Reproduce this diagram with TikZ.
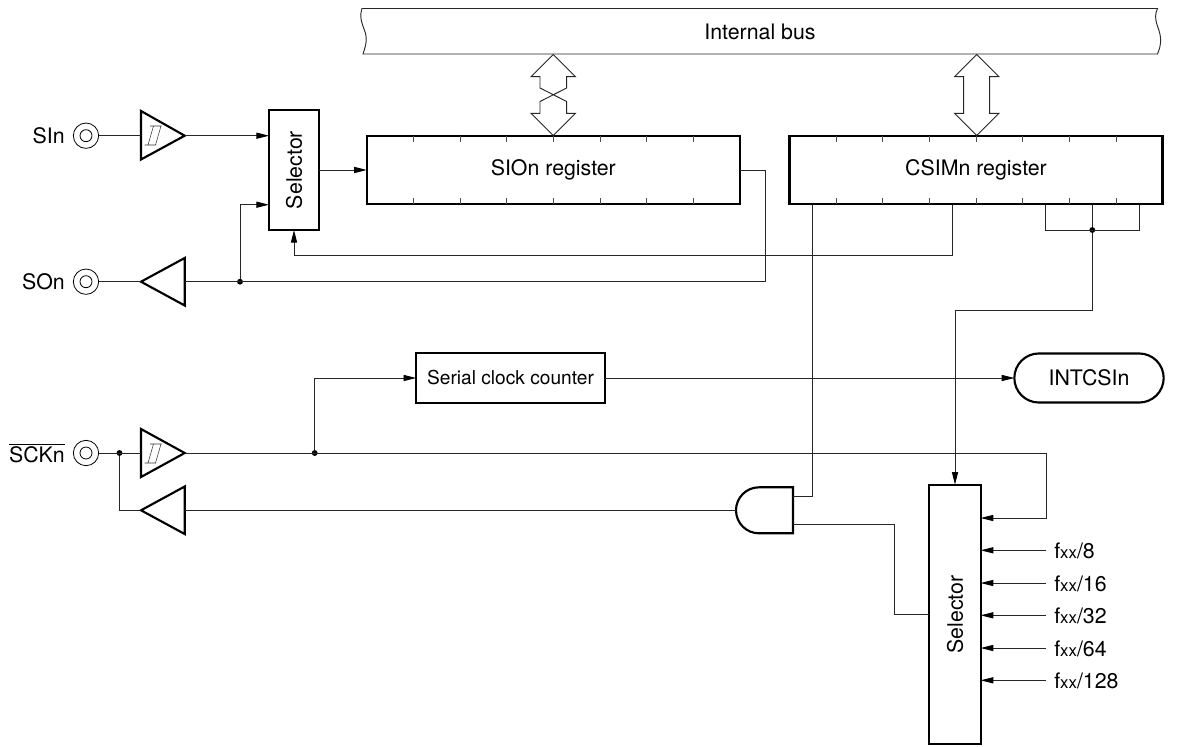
\documentclass[tikz,border=0pt]{standalone}
\usepackage{fontspec}
\setmainfont{TeX Gyre Heros}
\usetikzlibrary{arrows.meta,calc}
\newcommand{\fxx}[1]{f{\fontsize{12.6pt}{14pt}\selectfont xx}/#1}
\tikzset{
  wire/.style={line width=0.7pt,black!85},
  arr/.style={wire,-{Triangle[length=9.5pt,width=4.6pt,black]}},
  thickbox/.style={draw,line width=1.6pt,rectangle,inner sep=0pt,outer sep=0pt,font=\fontsize{16pt}{19pt}\selectfont,anchor=center},
  gate/.style={line width=1.6pt,line join=miter},
  thin box/.style={line width=0.7pt,black!85},
  lbl/.style={inner sep=0pt,font=\fontsize{16pt}{19pt}\selectfont},
  pinouter/.style={draw,circle,line width=0.6pt,minimum size=19pt,inner sep=0pt,outer sep=0pt},
  pininner/.style={draw,circle,line width=0.6pt,minimum size=9pt,inner sep=0pt,outer sep=0pt},
  jdot/.style={circle,fill=black,minimum size=4.4pt,inner sep=0pt,outer sep=0pt},
  tick/.style={line width=0.7pt,black!70},
}
\begin{document}
\begin{tikzpicture}[x=0.75pt,y=-0.75pt]
\useasboundingbox (0,0) rectangle (1191,746);
\fill[white] (0,0) rectangle (1191,746);

% Internal bus
\draw[thin box] (362,8.5) -- (1157.5,8.5)
  .. controls (1152,20) and (1160,28) .. (1160.5,38)
  .. controls (1161,46) and (1159,50) .. (1157.5,54)
  -- (363,54)
  .. controls (365,48) and (367,42) .. (366,36)
  .. controls (365,28) and (358,20) .. (362,8.5) -- cycle;
\node[lbl] (busl) at (760,31.5) {Internal bus};

% Registers
\node[thickbox,minimum width=279.8pt,minimum height=51.6pt] (sio) at (553.3,170) {\raisebox{-1.1pt}{SIOn register}};
\node[thickbox,minimum width=279.8pt,minimum height=51.6pt] (csim) at (976,170) {\raisebox{-1.1pt}{CSIMn register}};
\foreach \i in {1,...,7}{
  \draw[tick] ($(sio.north west)+(46.67*\i,0)$) -- ++(0,6);
  \draw[tick] ($(sio.south west)+(46.67*\i,0)$) -- ++(0,-6);
  \draw[tick] ($(csim.north west)+(46.67*\i,0)$) -- ++(0,6);
  \draw[tick] ($(csim.south west)+(46.67*\i,0)$) -- ++(0,-6);
}

% Bus arrows
\draw[thin box,line join=miter] (553.3,54.5) -- (575.5,76.7) -- (566.6,76.7) -- (566.6,88) -- (540,101.5) -- (540,113.3) -- (531,113.3) -- (553.3,135.5) -- (575.5,113.3) -- (566.6,113.3) -- (566.6,101.5) -- (540,88) -- (540,76.7) -- (531,76.7) -- cycle;
\draw[thin box,line join=miter] (976.7,54.5) -- (998.9,76.7) -- (989.7,76.7) -- (989.7,113.3) -- (998.9,113.3) -- (976.7,135.5) -- (954.5,113.3) -- (963.7,113.3) -- (963.7,76.7) -- (954.5,76.7) -- cycle;

% Selectors
\node[thickbox,minimum width=37.5pt,minimum height=90pt] (sela) at (294,170) {\rotatebox{90}{Selector}};
\node[thickbox,minimum width=38.5pt,minimum height=194.6pt] (selb) at (955,614.4) {\rotatebox{90}{Selector}};

% Serial clock counter, INTCSIn
\node[thickbox,minimum width=141.5pt,minimum height=37.5pt] (cnt) at (510.5,378) {\fontsize{14.35pt}{17pt}\selectfont Serial clock counter};
\node[thickbox,minimum width=112pt,minimum height=36.8pt,rounded corners=18.4pt] (intc) at (1089,378) {INTCSIn};

% Pins
\node[pinouter] (psi) at (86,135.7) {}; \node[pininner] (psii) at (psi) {};
\node[pinouter] (pso) at (86,281.7) {}; \node[pininner] (psoi) at (pso) {};
\node[pinouter] (pck) at (86,453) {}; \node[pininner] (pcki) at (pck) {};
\node[lbl,anchor=east] (lsi) at (65,135.7) {SIn};
\node[lbl,anchor=east] (lso) at (65,281.7) {SOn};
\node[lbl,anchor=east] (lck) at (65,453) {$\overline{\mbox{SCKn}}$};

% Buffers
\coordinate (b1in) at (141,135.7); \coordinate (b1out) at (184.7,135.7);
\draw[gate] (141,111) -- (b1out) -- (141,159.5) -- cycle;
\draw[line width=0.4pt,black!80] (150,126) -- (161.6,126) (144.5,145) -- (156,145) (153.5,126) -- (148,145) (161,126) -- (155.5,145);
\coordinate (b2in) at (184.7,281.7); \coordinate (b2out) at (141,281.7);
\draw[gate] (184.7,258) -- (b2out) -- (184.7,305.5) -- cycle;
\coordinate (b3in) at (141,453); \coordinate (b3out) at (184.7,453);
\draw[gate] (141,429) -- (b3out) -- (141,477) -- cycle;
\draw[line width=0.4pt,black!80] (150,444) -- (161.6,444) (144.5,463) -- (156,463) (153.5,444) -- (148,463) (161,444) -- (155.5,463);
\coordinate (b4in) at (184.7,510.3); \coordinate (b4out) at (141,510.3);
\draw[gate] (184.7,486.5) -- (b4out) -- (184.7,534) -- cycle;

% AND gate
\coordinate (andout) at (736,510.3); \coordinate (anda) at (793,496); \coordinate (andb) at (793,524.3);
\draw[gate] (793,487.3) -- (759,487.3) .. controls (746.3,487.3) and (736,497.6) .. (736,510.3)
  .. controls (736,523) and (746.3,533.3) .. (759,533.3) -- (793,533.3) -- cycle;

% Junctions
\node[jdot] (j1) at (240,281.7) {};
\node[jdot] (j2) at (1092.3,230) {};
\node[jdot] (j3) at (119.5,453) {};
\node[jdot] (j4) at (314.7,453) {};

% Wires
\draw[wire] (psi.east) -- (b1in);
\draw[arr] (b1out) -- (sela.west |- b1out);
\draw[arr] (sela.east) -- (sio.west);
\draw[wire] (pso.east) -- (b2out);
\draw[wire] (sio.east) -- (765,170) -- (765,281.7) -- (b2in);
\draw[arr] (j1) -- (240,204.7) -- (sela.west |- 0,204.7);
\draw[arr] (952.7,204.5) -- (952.7,255.3) -- (294,255.3) -- (sela.south);
\draw[wire] (812.3,204.5) -- (812.3,496) -- (anda);
\draw[wire] (1045.7,204.5) -- (1045.7,230) -- (1139.3,230) -- (1139.3,204.5);
\draw[arr] (1092.3,204.5) -- (j2) -- (1092.3,310) -- (955,310) -- (selb.north);
\draw[arr] (cnt.east) -- (intc.west);
\draw[wire] (pck.east) -- (b3in);
\draw[wire] (j3) -- (119.5,510.3) -- (b4out);
\draw[arr] (j4) -- (314.7,378) -- (cnt.west);
\draw[arr] (b3out) -- (1046,453) -- (1046,518) -- (selb.east |- 0,518);
\draw[wire] (b4in) -- (andout);
\draw[wire] (andb) -- (894.7,524.3) -- (894.7,614.4) -- (selb.west);

% Clock inputs
\foreach \n/\y/\t in {a/550.3/8,b/583/16,c/615.3/32,d/648/64,e/680.3/128}{
  \coordinate (c\n) at (1046,\y);
  \draw[arr] (c\n) -- (selb.east |- c\n);
  \node[lbl,anchor=west] (f\n) at (1054,\y+0.7) {\fxx{\t}};
}
\end{tikzpicture}
\end{document}
